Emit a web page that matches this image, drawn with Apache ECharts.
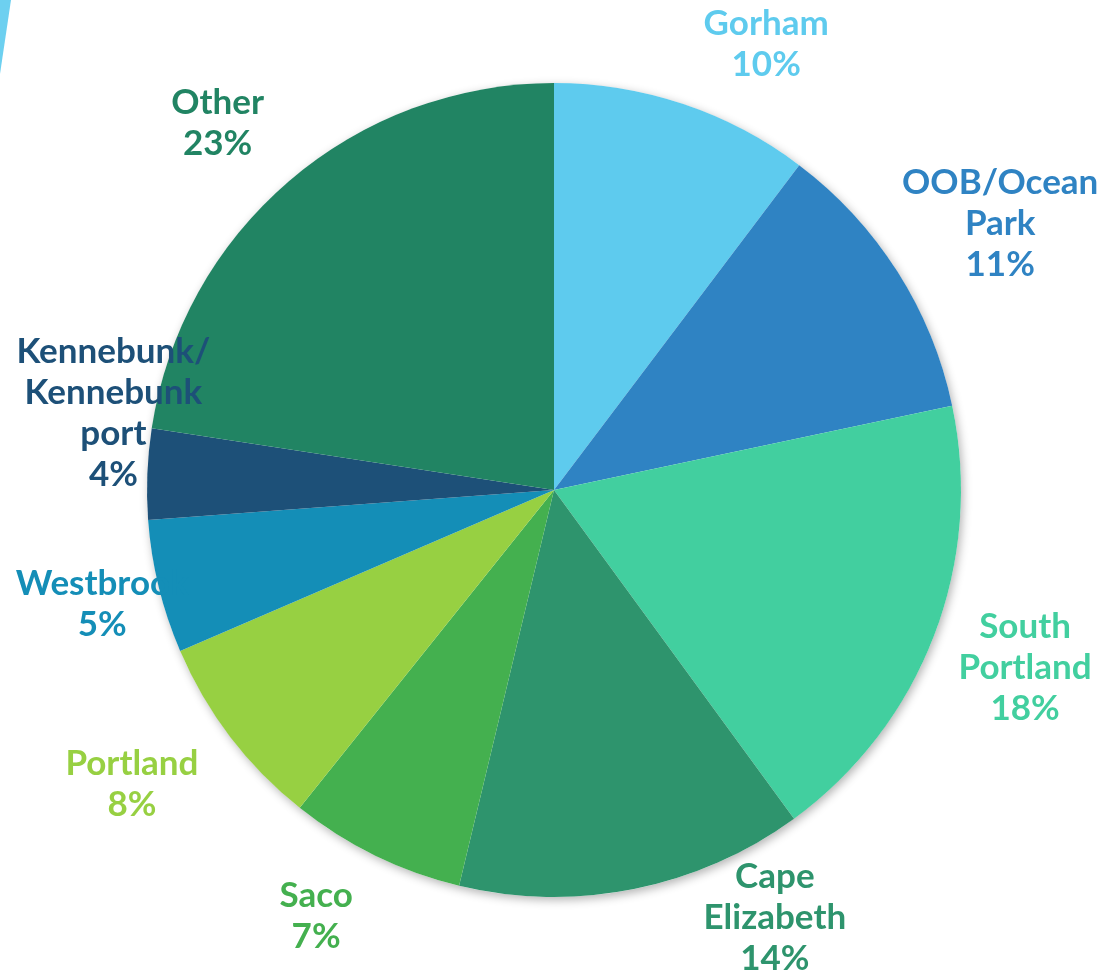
<!DOCTYPE html>
<html>
<head>
<meta charset="utf-8">
<script src="https://cdn.jsdelivr.net/npm/echarts@6/dist/echarts.min.js"></script>
<style>
  html, body { margin: 0; padding: 0; background: #fff; }
  #chart { width: 1102px; height: 972px; }
</style>
</head>
<body>
<div id="chart"></div>
<script>
// 城镇名称 (顺时针, 从顶部开始)
const towns = ['Gorham', 'OOB/Ocean\nPark', 'South\nPortland', 'Cape\nElizabeth', 'Saco', 'Portland', 'Westbrook', 'Kennebunk/\nKennebunk\nport', 'Other'];
// 占比
const shares = [10.3, 11.4, 18.3, 13.8, 7.0, 7.8, 5.3, 3.6, 22.6];
// 颜色
const colors = ['#5ECBEE', '#2F83C3', '#42CF9F', '#2E946D', '#44B04F', '#97D042', '#148EB7', '#1D5078', '#218463'];
// 标签微调
const labelOffsets = [[54, 26], [26, 1], [6, 0], [123, -61], [-19, -21], [-26, -8], [32, -4], [57, -57], [-12, 11]];

const center = [554, 490];
const font = 'Lato, "DejaVu Sans", sans-serif';

let chart = echarts.init(document.getElementById('chart'), null, { renderer: 'canvas' });

let pieData = towns.map((name, i) => ({
  name: name,
  value: shares[i],
  itemStyle: { color: colors[i] }
}));

let labelData = towns.map((name, i) => ({
  name: name,
  value: shares[i],
  label: { color: colors[i], offset: labelOffsets[i] }
}));

chart.setOption({
  backgroundColor: '#ffffff',
  animation: false,
  graphic: [{
    type: 'polygon',
    shape: { points: [[0, 0], [11, 0], [0, 74]] },
    style: { fill: '#6DD0F0' }
  }],
  series: [
    {
      // 阴影底
      type: 'pie',
      z: 0,
      silent: true,
      center: center,
      radius: [0, 407],
      label: { show: false },
      labelLine: { show: false },
      itemStyle: { color: '#ffffff', shadowBlur: 10, shadowColor: 'rgba(0,0,0,0.3)', shadowOffsetX: 2, shadowOffsetY: 3 },
      data: [{ value: 1, name: 'bg' }]
    },
    {
      type: 'pie',
      z: 2,
      silent: true,
      center: center,
      radius: [0, 407],
      label: { show: false },
      labelLine: { show: false },
      itemStyle: { borderWidth: 0 },
      data: pieData
    },
    {
      // 标签 (画在饼图之上)
      type: 'pie',
      z: 4,
      silent: true,
      center: center,
      radius: [494, 496],
      itemStyle: { color: 'transparent' },
      labelLine: { show: false },
      labelLayout: { hideOverlap: false },
      label: {
        show: true,
        position: 'inside',
        formatter: p => p.name + '\n' + Math.round(p.percent) + '%',
        fontFamily: font,
        fontWeight: 'bold',
        fontSize: 35,
        lineHeight: 41,
        align: 'center',
        verticalAlign: 'middle'
      },
      data: labelData
    }
  ]
});
</script>
</body>
</html>
